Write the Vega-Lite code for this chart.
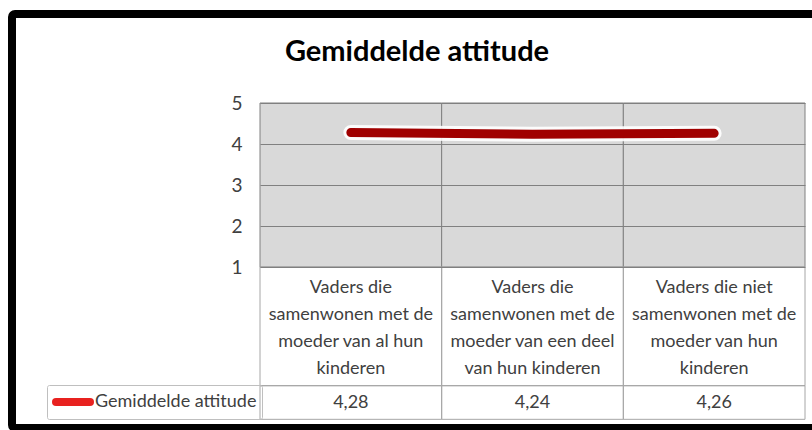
{
  "$schema": "https://vega.github.io/schema/vega-lite/v6.json",
  "width": 806,
  "height": 414,
  "autosize": "none",
  "padding": {"left": 12, "top": 14, "right": -6, "bottom": 2},
  "background": "white",
  "title": {
    "text": "Gemiddelde attitude",
    "font": "Lato",
    "fontSize": 29,
    "fontWeight": "bold",
    "color": "#000000",
    "anchor": "middle",
    "baseline": "alphabetic",
    "offset": -76,
    "dx": 2
  },
  "config": {
    "view": {"stroke": "#000000", "strokeWidth": 8, "fill": "white", "cornerRadius": 3},
    "locale": {"number": {"decimal": ",", "thousands": ".", "grouping": [3], "currency": ["€ ", ""]}},
    "font": "Lato"
  },
  "data": {
    "values": [
      {"cat": "Vaders die\nsamenwonen met de\nmoeder van al hun\nkinderen", "series": "Gemiddelde attitude", "value": 4.28},
      {"cat": "Vaders die\nsamenwonen met de\nmoeder van een deel\nvan hun kinderen", "series": "Gemiddelde attitude", "value": 4.24},
      {"cat": "Vaders die niet\nsamenwonen met de\nmoeder van hun\nkinderen", "series": "Gemiddelde attitude", "value": 4.26}
    ]
  },
  "encoding": {
    "x": {
      "field": "cat",
      "type": "nominal",
      "sort": null,
      "scale": {"range": [248, 793], "paddingInner": 0, "paddingOuter": 0},
      "axis": {
        "title": null,
        "labelExpr": "split(datum.label, '\\n')",
        "offset": -161,
        "labelPadding": 11,
        "labelBaseline": "top",
        "labelLineHeight": 27,
        "labelFont": "Lato",
        "labelFontSize": 18,
        "labelColor": "#404040",
        "labelAngle": 0,
        "labelLimit": 0,
        "labelOverlap": false,
        "labelBound": false,
        "grid": false,
        "ticks": false,
        "domain": false
      }
    }
  },
  "layer": [
    {
      "mark": {"type": "rect", "fill": "#d9d9d9", "stroke": "#808080", "strokeWidth": 1},
      "encoding": {
        "y": {
          "datum": 1,
          "type": "quantitative",
          "scale": {"domain": [1, 5], "range": [253, 89], "nice": false, "zero": false},
          "axis": {
            "values": [1, 2, 3, 4, 5],
            "format": "d",
            "title": null,
            "grid": true,
            "gridColor": "#808080",
            "gridOpacity": 1,
            "gridWidth": 1,
            "domain": false,
            "ticks": false,
            "labelFont": "Lato",
            "labelFontSize": 19,
            "labelColor": "#404040",
            "labelPadding": -230,
            "zindex": 1
          }
        },
        "y2": {"datum": 5}
      }
    },
    {
      "mark": {"type": "rect", "fill": "white", "fillOpacity": 0, "stroke": "#a6a6a6", "strokeWidth": 1},
      "encoding": {
        "y": {"datum": 1, "type": "quantitative", "title": null},
        "y2": {"datum": -1.895}
      }
    },
    {
      "mark": {"type": "rect", "fill": "white", "fillOpacity": 0, "stroke": "#a6a6a6", "strokeWidth": 1},
      "encoding": {
        "y": {"datum": -1.895, "type": "quantitative", "title": null},
        "y2": {"datum": -2.715}
      }
    },
    {
      "mark": {"type": "text", "font": "Lato", "fontSize": 18, "color": "#404040", "baseline": "middle", "align": "center"},
      "encoding": {
        "y": {"datum": -2.31, "type": "quantitative", "title": null},
        "text": {"field": "value", "type": "quantitative", "format": ".2f"}
      }
    },
    {
      "mark": {"type": "line", "stroke": "white", "strokeWidth": 15, "strokeCap": "round", "opacity": 0.9},
      "encoding": {
        "y": {"field": "value", "type": "quantitative", "title": null}
      }
    },
    {
      "mark": {"type": "line", "stroke": "#a00000", "strokeWidth": 9, "strokeCap": "round"},
      "encoding": {
        "y": {"field": "value", "type": "quantitative", "title": null}
      }
    },
    {
      "mark": {"type": "line", "strokeWidth": 9, "strokeCap": "round", "opacity": 0},
      "encoding": {
        "y": {"field": "value", "type": "quantitative", "title": null},
        "color": {
          "field": "series",
          "type": "nominal",
          "scale": {"range": ["#e8211f"]},
          "legend": {
            "orient": "none",
            "legendX": 35,
            "legendY": 371,
            "title": null,
            "symbolType": "stroke",
            "symbolStrokeWidth": 8,
            "symbolSize": 1156,
            "symbolOpacity": 1,
            "clipHeight": 24,
            "labelFont": "Lato",
            "labelFontSize": 18,
            "labelColor": "#404040",
            "labelOffset": 1,
            "labelLimit": 400,
            "strokeColor": "#bfbfbf",
            "padding": 5,
            "cornerRadius": 2,
            "encode": {"symbols": {"update": {"strokeCap": {"value": "round"}, "opacity": {"value": 1}}}}
          }
        }
      }
    }
  ]
}
